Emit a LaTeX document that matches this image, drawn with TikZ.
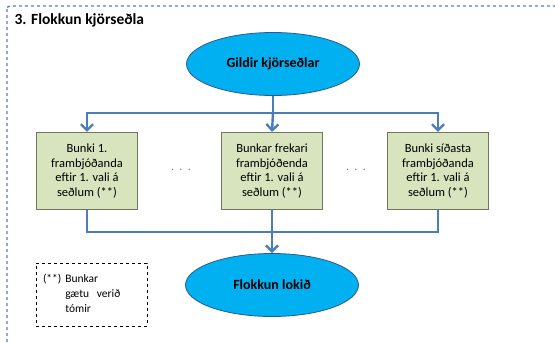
\documentclass[tikz,border=0pt]{standalone}
\usepackage{fontspec}
\setmainfont{Carlito}
\usepackage{tikz}
\usetikzlibrary{shapes}
\usetikzlibrary{positioning}
\usetikzlibrary{arrows.meta}
\usepackage{xcolor}
\definecolor{linkblue}{HTML}{4A7EBB}
\definecolor{ovalfill}{HTML}{00B0F0}
\definecolor{ovalline}{HTML}{2C5A8C}
\definecolor{pilefill}{HTML}{D7E4BD}
\definecolor{pileline}{HTML}{6E7660}
\definecolor{framecol}{HTML}{5B7FAE}
\tikzset{
  oval/.style={ellipse, draw=ovalline, fill=ovalfill, line width=.8pt, minimum width=173pt, minimum height=63pt, font=\bfseries\fontsize{14}{16}\selectfont},
  pile/.style={rectangle, draw=pileline, fill=pilefill, line width=1.2pt, minimum width=101pt, minimum height=77pt, align=center, inner sep=0pt, font=\fontsize{12.5}{14.5}\selectfont},
  link/.style={draw=linkblue, line width=2.4pt},
  tip/.style={-{Straight Barb[length=6pt,width=12pt]}},
}
\begin{document}
\begin{tikzpicture}[x=1pt,y=-1pt]
\useasboundingbox (0,0) rectangle (555,343);
\clip (0,0) rectangle (555,343);
\draw[framecol, dashed, line width=1.3pt, rounded corners=3pt] (7,6) rectangle (575,370);
\node[anchor=west, font=\bfseries\fontsize{15.5}{17}\selectfont] (title) at (11,20) {3. Flokkun kjörseðla};
\node[oval] (start) at (273,64) {Gildir kjörseðlar};
\node[pile] (first) at (87,171) {Bunki 1.\\ frambjóðanda\\ eftir 1. vali á\\ seðlum (**)};
\node[pile] (more) at (272,171) {Bunkar frekari\\ frambjóðenda\\ eftir 1. vali á\\ seðlum (**)};
\node[pile] (last) at (438,171) {Bunki síðasta\\ frambjóðanda\\ eftir 1. vali á\\ seðlum (**)};
\node[gray, font=\fontsize{12}{13}\selectfont] (dotsa) at (181,170) {.\ \ .\ \ .};
\node[gray, font=\fontsize{12}{13}\selectfont] (dotsb) at (356,170) {.\ \ .\ \ .};
\node[oval] (stop) at (272,285) {Flokkun lokið};
\node[draw, dashed, line width=1pt, minimum width=111pt, minimum height=63pt, inner sep=0pt, text width=97pt, align=left, font=\fontsize{11.5}{15}\selectfont] (note) at (91.5,294.5)
  {\begin{tabular}{@{}l@{\ }l@{}}(**) & Bunkar\\ & gætu \ verið\\ & tómir\end{tabular}};
\coordinate (split) at (273,113);
\coordinate (join) at (272,232);
\draw[link] (start) -- (split);
\draw[link,tip] (split) -| (first.north);
\draw[link,tip] (split) -- (more.north);
\draw[link,tip] (split) -| (last.north);
\draw[link] (first.south) |- (join);
\draw[link] (last.south) |- (join);
\draw[link,tip] (more.south) -- (stop.north);
\end{tikzpicture}
\end{document}
